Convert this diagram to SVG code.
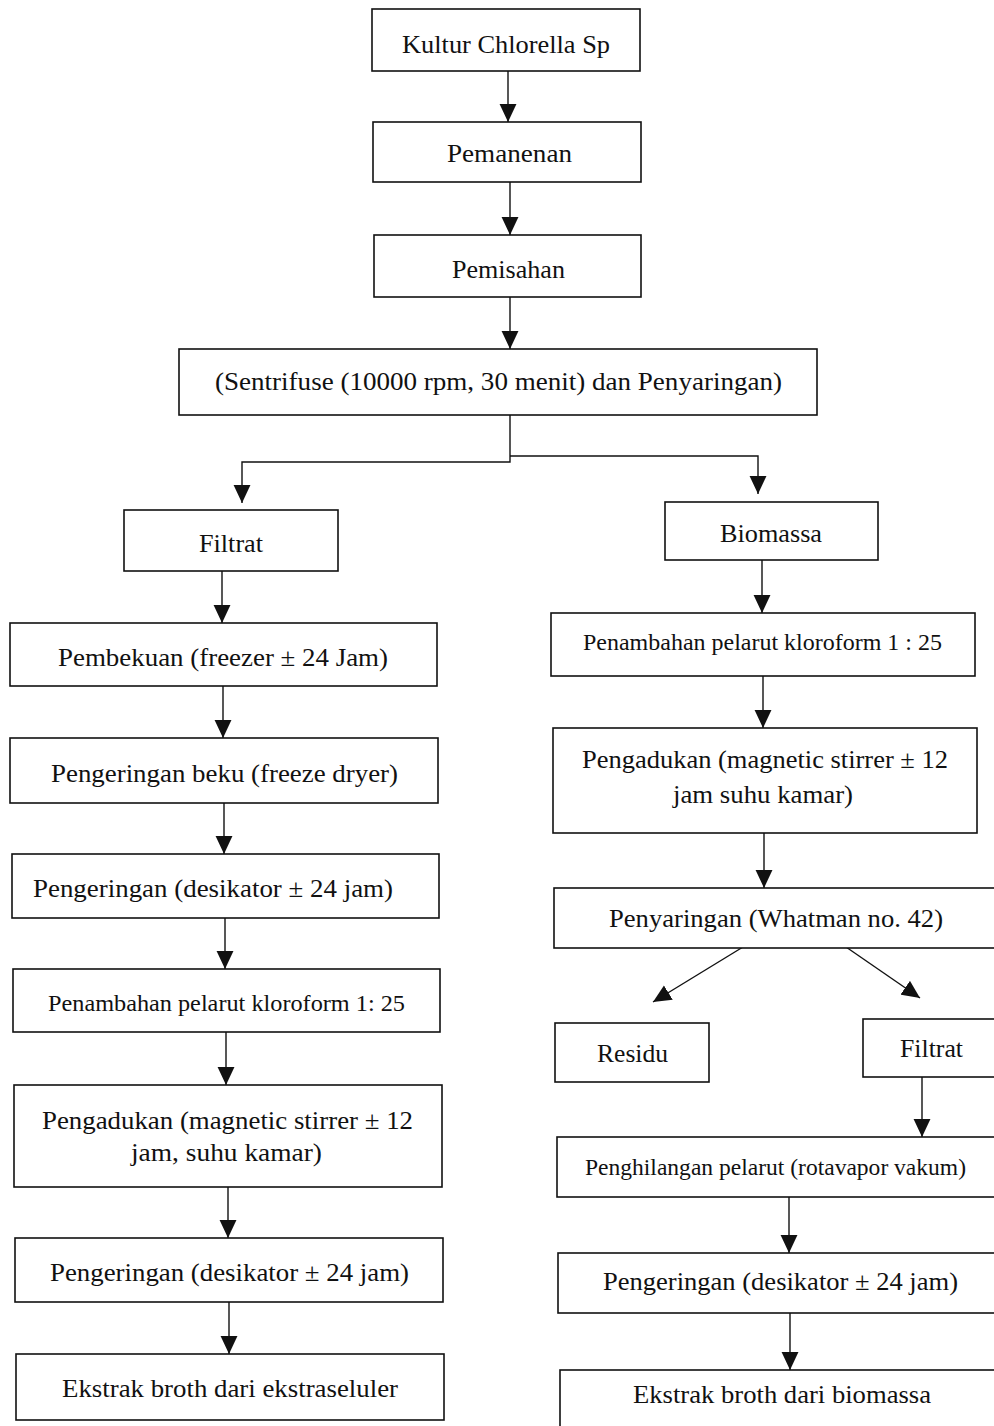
<svg xmlns="http://www.w3.org/2000/svg" width="994" height="1426" viewBox="0 0 994 1426">
<style>
.box{fill:#fff;stroke:#111;stroke-width:1.6}
.t{font-family:"Liberation Serif","Times New Roman",serif;font-size:26px;fill:#111}
.s{font-size:23px}
.c{fill:none;stroke:#111;stroke-width:1.4}
</style>
<defs>
<marker id="ah" markerUnits="userSpaceOnUse" markerWidth="18" markerHeight="18" viewBox="0 0 16 16" refX="16" refY="8" orient="auto">
<path d="M0,0.5 L16,8 L0,15.5 z" fill="#111"/>
</marker>
</defs>
<rect width="994" height="1426" fill="#fff"/>
<g id="connectors">
<path class="c" marker-end="url(#ah)" d="M508,71 V122"/>
<path class="c" marker-end="url(#ah)" d="M510,182 V235"/>
<path class="c" marker-end="url(#ah)" d="M510,297 V349"/>
<path class="c" marker-end="url(#ah)" d="M510,415 V462 H242 V503"/>
<path class="c" marker-end="url(#ah)" d="M510,456 H758 V494"/>
<path class="c" marker-end="url(#ah)" d="M222,571 V623"/>
<path class="c" marker-end="url(#ah)" d="M223,686 V738"/>
<path class="c" marker-end="url(#ah)" d="M224,803 V854"/>
<path class="c" marker-end="url(#ah)" d="M225,918 V969"/>
<path class="c" marker-end="url(#ah)" d="M226,1032 V1085"/>
<path class="c" marker-end="url(#ah)" d="M228,1187 V1238"/>
<path class="c" marker-end="url(#ah)" d="M229,1302 V1354"/>
<path class="c" marker-end="url(#ah)" d="M762,560 V613"/>
<path class="c" marker-end="url(#ah)" d="M763,676 V728"/>
<path class="c" marker-end="url(#ah)" d="M764,833 V888"/>
<path class="c" marker-end="url(#ah)" d="M743,947 L653,1002"/>
<path class="c" marker-end="url(#ah)" d="M846,947 L920,998"/>
<path class="c" marker-end="url(#ah)" d="M922,1077 V1137"/>
<path class="c" marker-end="url(#ah)" d="M789,1197 V1253"/>
<path class="c" marker-end="url(#ah)" d="M790,1313 V1370"/>
</g>
<g id="n1"><rect class="box" x="372" y="9" width="268" height="62"/><text class="t" x="402" y="53" textLength="208" lengthAdjust="spacingAndGlyphs">Kultur Chlorella Sp</text></g>
<g id="n2"><rect class="box" x="373" y="122" width="268" height="60"/><text class="t" x="447" y="162" textLength="125" lengthAdjust="spacingAndGlyphs">Pemanenan</text></g>
<g id="n3"><rect class="box" x="374" y="235" width="267" height="62"/><text class="t" x="452" y="278" textLength="113" lengthAdjust="spacingAndGlyphs">Pemisahan</text></g>
<g id="n4"><rect class="box" x="179" y="349" width="638" height="66"/><text class="t" x="215" y="390" textLength="567" lengthAdjust="spacingAndGlyphs">(Sentrifuse (10000 rpm, 30 menit) dan Penyaringan)</text></g>
<g id="n5"><rect class="box" x="124" y="510" width="214" height="61"/><text class="t" x="199" y="552" textLength="64" lengthAdjust="spacingAndGlyphs">Filtrat</text></g>
<g id="n6"><rect class="box" x="665" y="502" width="213" height="58"/><text class="t" x="720" y="542" textLength="102" lengthAdjust="spacingAndGlyphs">Biomassa</text></g>
<g id="n7"><rect class="box" x="10" y="623" width="427" height="63"/><text class="t" x="58" y="666" textLength="330" lengthAdjust="spacingAndGlyphs">Pembekuan (freezer ± 24 Jam)</text></g>
<g id="n8"><rect class="box" x="10" y="738" width="428" height="65"/><text class="t" x="51" y="782" textLength="347" lengthAdjust="spacingAndGlyphs">Pengeringan beku (freeze dryer)</text></g>
<g id="n9"><rect class="box" x="12" y="854" width="427" height="64"/><text class="t" x="33" y="897" textLength="360" lengthAdjust="spacingAndGlyphs">Pengeringan (desikator ± 24 jam)</text></g>
<g id="n10"><rect class="box" x="13" y="969" width="427" height="63"/><text class="t s" x="48" y="1011" textLength="357" lengthAdjust="spacingAndGlyphs">Penambahan pelarut kloroform 1: 25</text></g>
<g id="n11"><rect class="box" x="14" y="1085" width="428" height="102"/><text class="t" x="42" y="1129" textLength="371" lengthAdjust="spacingAndGlyphs">Pengadukan (magnetic stirrer ± 12</text><text class="t" x="131" y="1161" textLength="191" lengthAdjust="spacingAndGlyphs">jam, suhu kamar)</text></g>
<g id="n12"><rect class="box" x="15" y="1238" width="428" height="64"/><text class="t" x="50" y="1281" textLength="359" lengthAdjust="spacingAndGlyphs">Pengeringan (desikator ± 24 jam)</text></g>
<g id="n13"><rect class="box" x="16" y="1354" width="428" height="66"/><text class="t" x="62" y="1397" textLength="336" lengthAdjust="spacingAndGlyphs">Ekstrak broth dari ekstraseluler</text></g>
<g id="n14"><rect class="box" x="551" y="613" width="424" height="63"/><text class="t s" x="583" y="650" textLength="359" lengthAdjust="spacingAndGlyphs">Penambahan pelarut kloroform 1 : 25</text></g>
<g id="n15"><rect class="box" x="553" y="728" width="424" height="105"/><text class="t" x="582" y="768" textLength="366" lengthAdjust="spacingAndGlyphs">Pengadukan (magnetic stirrer ± 12</text><text class="t" x="673" y="803" textLength="180" lengthAdjust="spacingAndGlyphs">jam suhu kamar)</text></g>
<g id="n16"><rect class="box" x="554" y="888" width="446" height="60"/><text class="t" x="609" y="927" textLength="334" lengthAdjust="spacingAndGlyphs">Penyaringan (Whatman no. 42)</text></g>
<g id="n17"><rect class="box" x="555" y="1023" width="154" height="59"/><text class="t" x="597" y="1062" textLength="71" lengthAdjust="spacingAndGlyphs">Residu</text></g>
<g id="n18"><rect class="box" x="863" y="1019" width="137" height="58"/><text class="t" x="900" y="1057" textLength="63" lengthAdjust="spacingAndGlyphs">Filtrat</text></g>
<g id="n19"><rect class="box" x="557" y="1137" width="443" height="60"/><text class="t s" x="585" y="1175" textLength="381" lengthAdjust="spacingAndGlyphs">Penghilangan pelarut (rotavapor vakum)</text></g>
<g id="n20"><rect class="box" x="558" y="1253" width="442" height="60"/><text class="t" x="603" y="1290" textLength="355" lengthAdjust="spacingAndGlyphs">Pengeringan (desikator ± 24 jam)</text></g>
<g id="n21"><rect class="box" x="560" y="1370" width="440" height="70"/><text class="t" x="633" y="1403" textLength="298" lengthAdjust="spacingAndGlyphs">Ekstrak broth dari biomassa</text></g>
</svg>
